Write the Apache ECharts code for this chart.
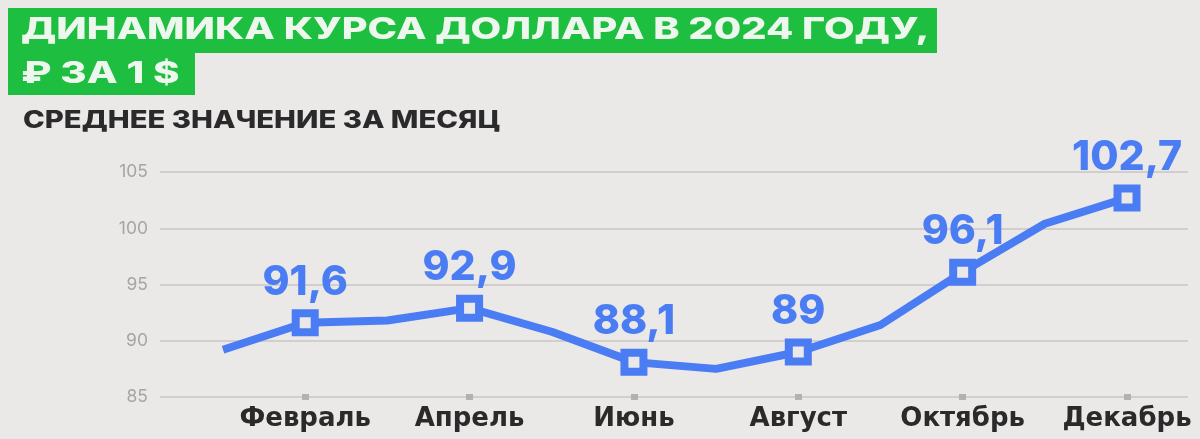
<!DOCTYPE html>
<html>
<head>
<meta charset="utf-8">
<script src="https://cdn.jsdelivr.net/npm/echarts@6/dist/echarts.min.js"></script>
<style>
html,body{margin:0;padding:0;background:#ebe8e8;}
#c{width:1200px;height:439px;}
</style>
</head>
<body>
<div id="c"></div>
<script>
var months = ['Январь','Февраль','Март','Апрель','Май','Июнь','Июль','Август','Сентябрь','Октябрь','Ноябрь','Декабрь'];
var rates = [89.2, 91.6, 91.8, 92.9, 90.8, 88.1, 87.5, 89.0, 91.4, 96.1, 100.4, 102.7];
var labeledMonths = [2, 4, 6, 8, 10, 12];
var yTicks = [85, 90, 95, 100, 105];
var titleLine1 = 'ДИНАМИКА КУРСА ДОЛЛАРА В 2024 ГОДУ,';
var titleLine2 = '₽ ЗА 1 $';
var subtitle = 'СРЕДНЕЕ ЗНАЧЕНИЕ ЗА МЕСЯЦ';

var BLUE = '#4a7cf3';
var BG = '#ebe8e8';
var GREEN = '#1ebf40';

var seriesData = rates.map(function (v, i) {
  var m = i + 1;
  var marked = labeledMonths.indexOf(m) >= 0;
  return {
    value: [m, v],
    symbol: marked ? 'rect' : 'none',
    label: { show: marked }
  };
});

var chart = echarts.init(document.getElementById('c'), null, { renderer: 'canvas' });
chart.setOption({
  backgroundColor: BG,
  animation: false,
  graphic: [
    { type: 'rect', x: 8, y: 8, shape: { width: 929, height: 45 }, style: { fill: GREEN }, z: 10 },
    { type: 'rect', x: 8, y: 52, shape: { width: 187, height: 43 }, style: { fill: GREEN }, z: 10 },
    { type: 'text', x: 21, y: 30, scaleX: 1.325, z: 11,
      style: { text: titleLine1, font: '800 30px Inter', fill: '#eef7ee', textVerticalAlign: 'middle' } },
    { type: 'text', x: 21, y: 74, scaleX: 1.34, z: 11,
      style: { text: titleLine2, font: '800 30px Inter', fill: '#eef7ee', textVerticalAlign: 'middle' } },
    { type: 'text', x: 23, y: 121, scaleX: 1.22, z: 11,
      style: { text: subtitle, font: '800 24px Inter', fill: '#2a2a2a', textVerticalAlign: 'middle' } }
  ],
  grid: { left: 160, right: 12, top: 172, bottom: 42, containLabel: false },
  xAxis: {
    type: 'value',
    min: 0.233,
    max: 12.742,
    offset: -3,
    axisLine: { show: false },
    splitLine: { show: false },
    axisTick: {
      show: true,
      customValues: labeledMonths,
      length: 6,
      lineStyle: { color: '#b5b1b1', width: 7 }
    },
    axisLabel: {
      show: true,
      customValues: labeledMonths,
      margin: 12,
      fontFamily: 'DejaVu Sans',
      fontSize: 26,
      fontWeight: 700,
      color: '#2a2a2a',
      formatter: function (v) { return months[Math.round(v) - 1]; }
    }
  },
  yAxis: {
    type: 'value',
    min: 85,
    max: 105,
    interval: 5,
    axisLine: { show: false },
    axisTick: { show: false },
    axisLabel: {
      margin: 12,
      fontFamily: 'Inter',
      fontSize: 17.5,
      fontWeight: 400,
      color: '#a8a4a4',
      customValues: yTicks
    },
    splitLine: { lineStyle: { color: '#d2cece', width: 2 } }
  },
  series: [{
    type: 'line',
    data: seriesData,
    symbolSize: 19,
    showAllSymbol: true,
    z: 3,
    lineStyle: { color: BLUE, width: 8 },
    itemStyle: { color: BG, borderColor: BLUE, borderWidth: 8 },
    label: {
      position: 'top',
      distance: 6,
      fontFamily: 'Inter',
      fontSize: 41,
      fontWeight: 800,
      color: BLUE,
      formatter: function (p) { return String(p.value[1]).replace('.', ','); }
    },
    emphasis: { disabled: true }
  }]
});
</script>
</body>
</html>
